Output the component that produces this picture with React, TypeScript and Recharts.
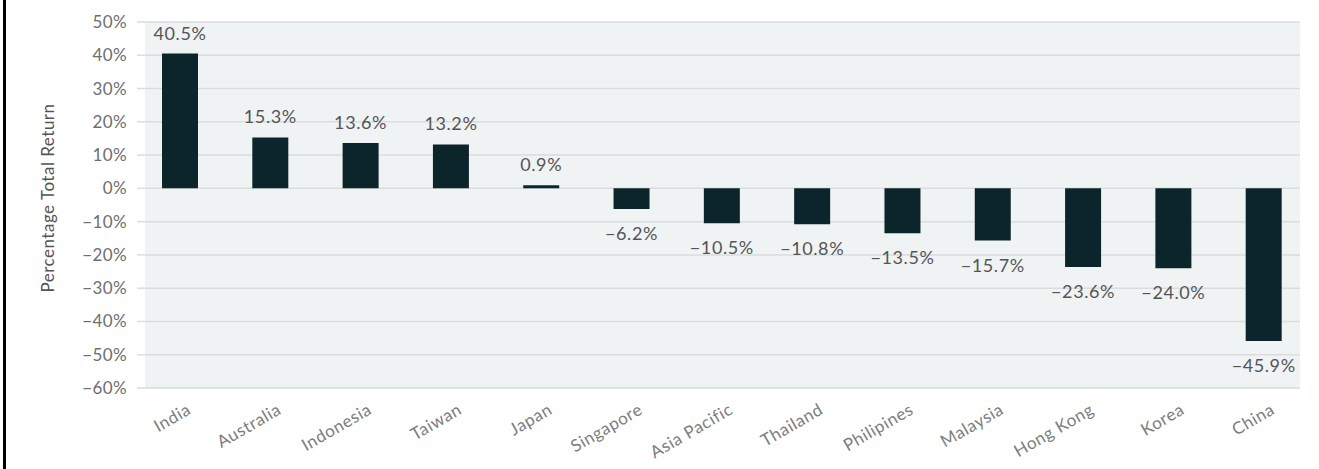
import React from "react";
import { BarChart, Bar, XAxis, YAxis, CartesianGrid, LabelList } from "recharts";

const countries = [
  "India", "Australia", "Indonesia", "Taiwan", "Japan", "Singapore", "Asia Pacific",
  "Thailand", "Philipines", "Malaysia", "Hong Kong", "Korea", "China",
];
const returns = [40.5, 15.3, 13.6, 13.2, 0.9, -6.2, -10.5, -10.8, -13.5, -15.7, -23.6, -24.0, -45.9];
const yTicks = [50, 40, 30, 20, 10, 0, -10, -20, -30, -40, -50, -60];

const data = countries.map((name, i) => ({ name, value: returns[i] }));

const FONT = "Lato, 'Open Sans', sans-serif";
const BAR = "#0b252b";
const GRID = "#d9dddf";

const fmt = (v: number) => (v < 0 ? "\u2212" + Math.abs(v).toFixed(1) : v.toFixed(1)) + "%";
const fmtTick = (v: number) => (v < 0 ? "\u2212" + Math.abs(v) : String(v)) + "%";

function XTick(props: any) {
  const { x, y, payload } = props;
  return (
    <g transform={`translate(${x + 12},${y + 25})`}>
      <text
        textAnchor="end"
        transform="rotate(-30)"
        fill="#7d7d7d"
        fontSize={17}
        letterSpacing={0.6}
        fontFamily={FONT}
      >
        {payload.value}
      </text>
    </g>
  );
}

function ValueLabel(props: any) {
  const { x, y, width, height, value } = props;
  const top = Math.min(y, y + height);
  const bottom = Math.max(y, y + height);
  const cx = x + width / 2;
  const ty = value >= 0 ? top - 14 : bottom + 31;
  return (
    <text
      x={cx}
      y={ty}
      textAnchor="middle"
      fill="#555"
      fontSize={18}
      letterSpacing={0.6}
      fontFamily={FONT}
    >
      {fmt(value)}
    </text>
  );
}

export default function App() {
  return (
    <div style={{ position: "absolute", left: 0, top: 0, width: 1319, height: 469, background: "#fff" }}>
      <div style={{ position: "absolute", left: 3, top: 0, width: 3, height: 469, background: "#000" }} />
      <BarChart
        width={1319}
        height={469}
        data={data}
        margin={{ top: 22, right: 19, bottom: 0, left: 0 }}
      >
        <CartesianGrid vertical={false} fill="#f0f3f4" stroke={GRID} strokeWidth={1.5} />
        <XAxis
          dataKey="name"
          interval={0}
          axisLine={false}
          tickLine={false}
          tickSize={0}
          tickMargin={0}
          height={81}
          padding={{ left: -10, right: -9 }}
          tick={<XTick />}
        />
        <YAxis
          domain={[-60, 50]}
          ticks={yTicks}
          interval={0}
          width={145}
          axisLine={false}
          tickSize={8}
          tickMargin={10}
          tickLine={{ stroke: GRID, strokeWidth: 1.5 }}
          tickFormatter={fmtTick}
          tick={{ fill: "#6e6e6e", fontSize: 17, fontFamily: FONT, letterSpacing: 0.4 }}
          label={() => (
            <text
              x={54}
              y={198}
              transform="rotate(-90 54 198)"
              textAnchor="middle"
              fill="#555"
              fontSize={17}
              letterSpacing={0.5}
              fontFamily={FONT}
            >
              Percentage Total Return
            </text>
          )}
        />
        <Bar dataKey="value" fill={BAR} barSize={36} isAnimationActive={false}>
          <LabelList dataKey="value" content={<ValueLabel />} />
        </Bar>
      </BarChart>
    </div>
  );
}
